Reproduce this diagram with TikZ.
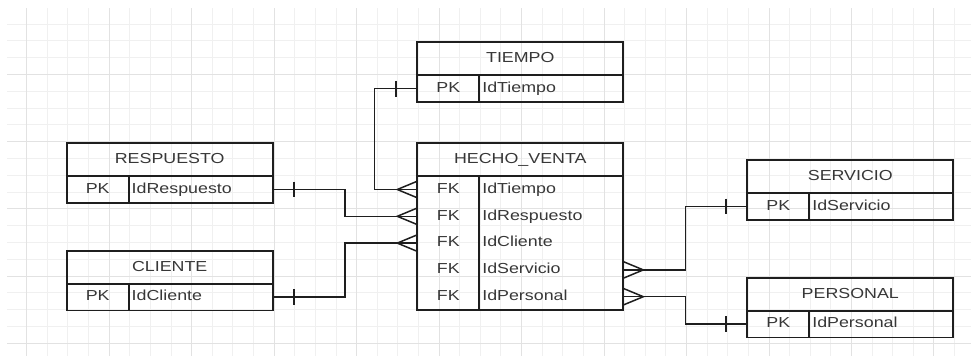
\documentclass[tikz,border=0pt]{standalone}
\usepackage{fontspec}
\setmainfont[FakeStretch=1.23]{Liberation Sans}
\usepackage{xcolor}
\definecolor{rejillagris}{RGB}{240, 240, 240}
\definecolor{rejillamayor}{RGB}{226, 226, 226}
\definecolor{textogris}{RGB}{55, 55, 55}
\definecolor{bordenegro}{RGB}{30, 30, 30}

\tikzset{
  celda/.style={draw=bordenegro, line width=1.7pt, inner sep=0pt, outer sep=0pt, text=textogris,
    font=\fontsize{14.5}{17}\selectfont, text height=10.4pt, text depth=3pt},
  cabecera/.style={celda, minimum width=206pt, minimum height=33pt},
  clave/.style={celda, minimum width=62pt, minimum height=26.8pt, anchor=north west},
  campo/.style={celda, text width=138pt, inner xsep=3pt, align=left, minimum height=26.8pt, anchor=north west},
  fila/.style={draw=none},
  conector/.style={draw=bordenegro, line width=1.5pt},
  rejilla/.style={draw=rejillagris, line width=1pt},
  muchos/.pic={\draw[conector] (0,-8.3) -- (-20,0) -- (0,8.3);},
  uno/.pic={\draw[conector] (0,-7.8) -- (0,7.8);}
}

\begin{document}
\begin{tikzpicture}[x=1pt, y=-1pt]
  \useasboundingbox (0,0) rectangle (971,356);

  % Rejilla de fondo
  \foreach \i in {0,...,45}
    \draw[rejilla] (26.7+20.62*\i,8) -- (26.7+20.62*\i,356);
  \foreach \j in {0,...,19}
    \draw[rejilla] (7,24+16.8*\j) -- (971,24+16.8*\j);
  \foreach \i in {0,4,...,44}
    \draw[rejilla, draw=rejillamayor] (26.7+20.62*\i,8) -- (26.7+20.62*\i,356);
  \foreach \j in {3,7,...,19}
    \draw[rejilla, draw=rejillamayor] (7,24+16.8*\j) -- (971,24+16.8*\j);

  % Tabla TIEMPO
  \node[cabecera] (t-tit) at (520.3,58.8) {TIEMPO};
  \node[clave] (t-pk) at (t-tit.south west) {PK};
  \node[campo] (t-id) at (t-pk.north east) {IdTiempo};

  % Tabla HECHO_VENTA
  \node[cabecera] (hv-tit) at (520.3,159.6) {HECHO\_VENTA};
  \node[clave, fila] (hv-k1) at (hv-tit.south west) {FK};
  \node[campo, fila] (hv-f1) at (hv-k1.north east) {IdTiempo};
  \node[clave, fila] (hv-k2) at (hv-k1.south west) {FK};
  \node[campo, fila] (hv-f2) at (hv-k2.north east) {IdRespuesto};
  \node[clave, fila] (hv-k3) at (hv-k2.south west) {FK};
  \node[campo, fila] (hv-f3) at (hv-k3.north east) {IdCliente};
  \node[clave, fila] (hv-k4) at (hv-k3.south west) {FK};
  \node[campo, fila] (hv-f4) at (hv-k4.north east) {IdServicio};
  \node[clave, fila] (hv-k5) at (hv-k4.south west) {FK};
  \node[campo, fila] (hv-f5) at (hv-k5.north east) {IdPersonal};
  \draw[celda] (hv-k1.north west) rectangle (hv-f5.south east);
  \draw[celda] (hv-k1.north east) -- (hv-k5.south east);

  % Tabla RESPUESTO
  \node[cabecera] (r-tit) at (169.7,159.6) {RESPUESTO};
  \node[clave] (r-pk) at (r-tit.south west) {PK};
  \node[campo] (r-id) at (r-pk.north east) {IdRespuesto};

  % Tabla CLIENTE
  \node[cabecera] (c-tit) at (169.7,267.3) {CLIENTE};
  \node[clave] (c-pk) at (c-tit.south west) {PK};
  \node[campo] (c-id) at (c-pk.north east) {IdCliente};

  % Tabla SERVICIO
  \node[cabecera] (s-tit) at (850.3,176.6) {SERVICIO};
  \node[clave] (s-pk) at (s-tit.south west) {PK};
  \node[campo] (s-id) at (s-pk.north east) {IdServicio};

  % Tabla PERSONAL
  \node[cabecera] (p-tit) at (850.3,294.3) {PERSONAL};
  \node[clave] (p-pk) at (p-tit.south west) {PK};
  \node[campo] (p-id) at (p-pk.north east) {IdPersonal};

  % Relaciones
  \draw[conector] (t-pk.west) -- ++(-43,0) |- (hv-k1.west);
  \draw[conector] (r-id.east) -- ++(72.3,0) |- (hv-k2.west);
  \draw[conector] (c-id.east) -- ++(72.3,0) |- (hv-k3.west);
  \draw[conector] (hv-f4.east) -- ++(62.4,0) |- (s-pk.west);
  \draw[conector] (hv-f5.east) -- ++(62.4,0) |- (p-pk.west);

  % Cardinalidad
  \pic at ([xshift=-21.5pt]t-pk.west) {uno};
  \pic at ([xshift=21.5pt]r-id.east) {uno};
  \pic at ([xshift=21.5pt]c-id.east) {uno};
  \pic at ([xshift=-21.5pt]s-pk.west) {uno};
  \pic at ([xshift=-21.5pt]p-pk.west) {uno};
  \pic at (hv-k1.west) {muchos};
  \pic at (hv-k2.west) {muchos};
  \pic at (hv-k3.west) {muchos};
  \pic[xscale=-1] at (hv-f4.east) {muchos};
  \pic[xscale=-1] at (hv-f5.east) {muchos};
\end{tikzpicture}
\end{document}
